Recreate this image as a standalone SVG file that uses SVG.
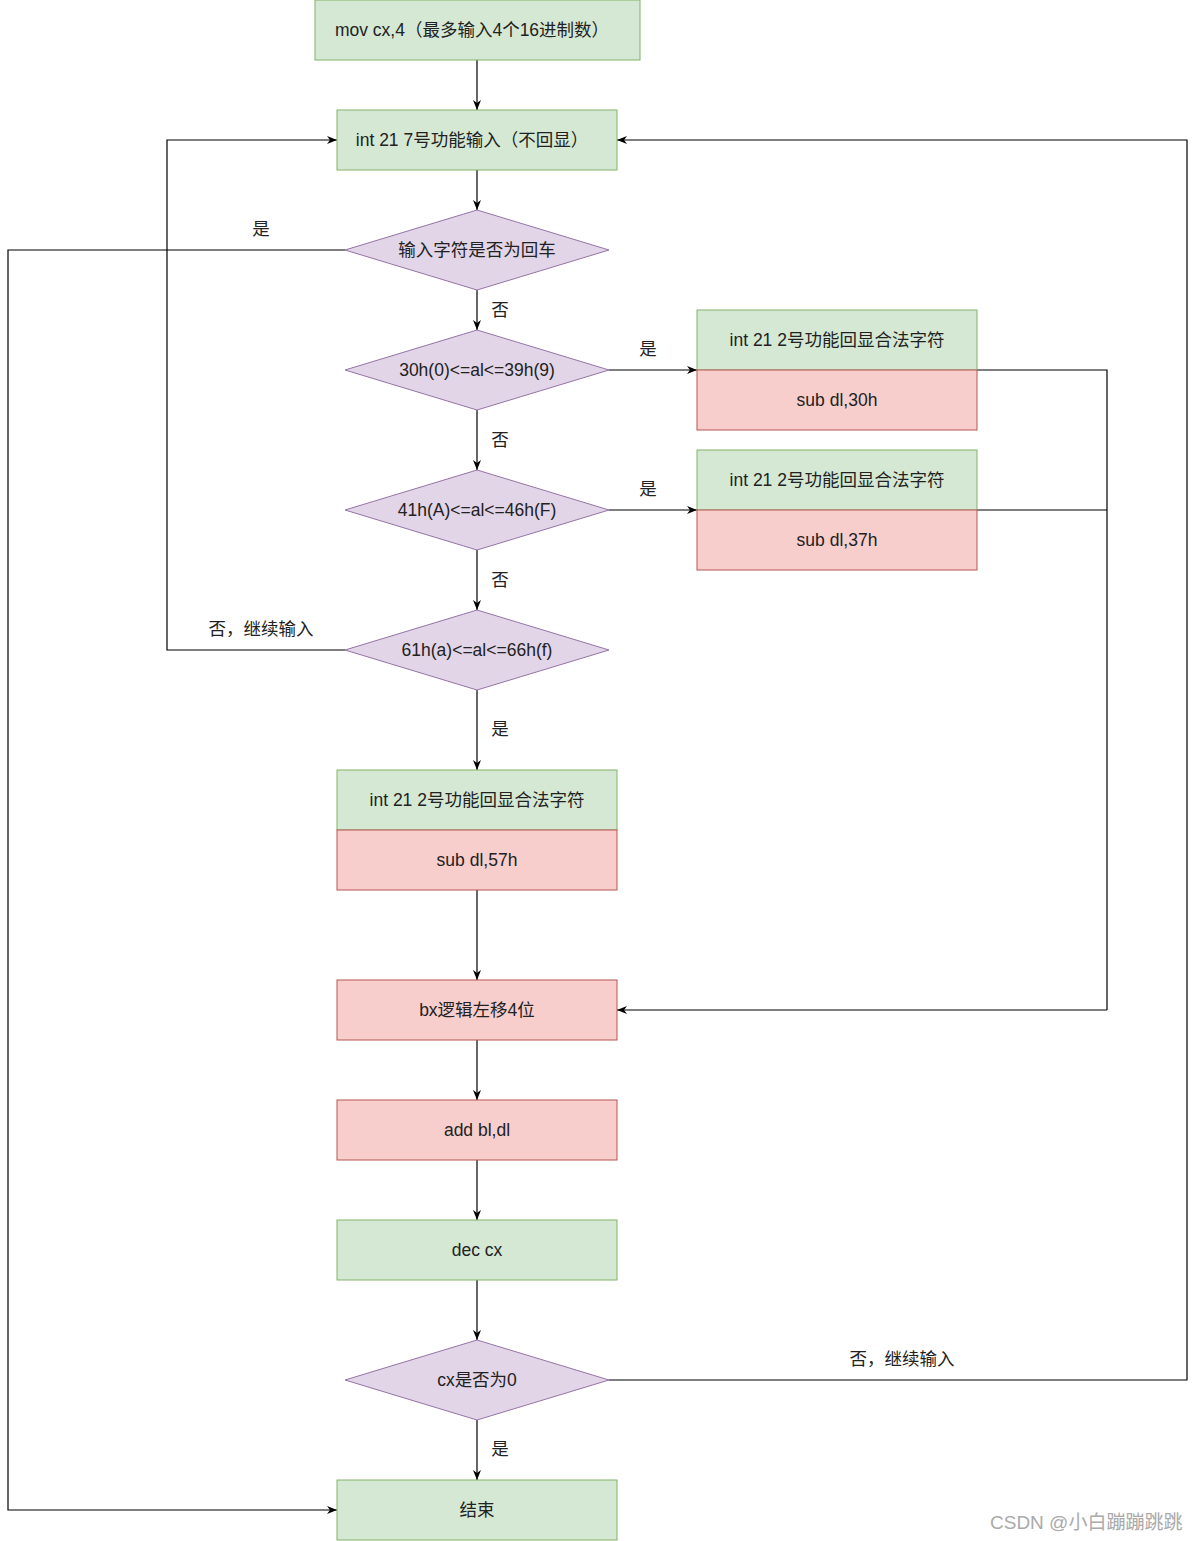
<svg xmlns="http://www.w3.org/2000/svg" width="1197" height="1541" viewBox="0 0 1197 1541">
<defs>
<marker id="arr" viewBox="0 0 10 10" refX="10" refY="5" markerWidth="10" markerHeight="10" markerUnits="userSpaceOnUse" orient="auto">
<path d="M0,1 L10,5 L0,9 L3,5 Z" fill="#000"/>
</marker>
<style>
text{font-family:"Liberation Sans","Noto Sans CJK SC",sans-serif;font-size:17.5px;fill:#222;text-anchor:middle;dominant-baseline:central}
.g{fill:#d5e8d4;stroke:#82b366;stroke-width:1}
.r{fill:#f8cecc;stroke:#b85450;stroke-width:1}
.p{fill:#e1d5e7;stroke:#9673a6;stroke-width:1}
.c{fill:none;stroke:#000;stroke-width:1.2}
.ca{fill:none;stroke:#000;stroke-width:1.2;marker-end:url(#arr)}
.wm{fill:#aaa;font-size:19px;text-anchor:start}
</style>
</defs>
<rect width="1197" height="1541" fill="#fff"/>
<g id="connectors">
<path class="ca" d="M477,60 V110"/>
<path class="ca" d="M477,170 V210"/>
<path class="ca" d="M345,250 H8 V1510 H337"/>
<path class="ca" d="M477,290 V330"/>
<path class="ca" d="M609,370 L697,370"/>
<path class="ca" d="M477,410 V470"/>
<path class="ca" d="M609,510 L697,510"/>
<path class="ca" d="M477,550 V610"/>
<path class="ca" d="M345,650 H167 V140 H337"/>
<path class="ca" d="M477,690 V770"/>
<path class="c" d="M977,370 H1107 V1010"/>
<path class="c" d="M977,510 H1107"/>
<path class="ca" d="M1107,1010 H617"/>
<path class="ca" d="M477,890 V980"/>
<path class="ca" d="M477,1040 V1100"/>
<path class="ca" d="M477,1160 V1220"/>
<path class="ca" d="M477,1280 V1340"/>
<path class="ca" d="M609,1380 H1187 V140 H617"/>
<path class="ca" d="M477,1420 V1480"/>
<text x="261" y="229">是</text>
<text x="500" y="310">否</text>
<text x="648" y="349">是</text>
<text x="500" y="440">否</text>
<text x="648" y="489">是</text>
<text x="500" y="580">否</text>
<text x="261" y="629">否，继续输入</text>
<text x="500" y="729">是</text>
<text x="902" y="1359">否，继续输入</text>
<text x="500" y="1449">是</text>
</g>
<g id="n-mov"><rect class="g" x="315" y="0" width="325" height="60"/><text x="472" y="30">mov cx,4（最多输入4个16进制数）</text></g>
<g id="n-int7"><rect class="g" x="337" y="110" width="280" height="60"/><text x="472" y="140">int 21 7号功能输入（不回显）</text></g>
<g id="d-enter"><polygon class="p" points="477,210 609,250 477,290 345,250"/><text x="477" y="250">输入字符是否为回车</text></g>
<g id="d-digit"><polygon class="p" points="477,330 609,370 477,410 345,370"/><text x="477" y="370">30h(0)&lt;=al&lt;=39h(9)</text></g>
<g id="d-upper"><polygon class="p" points="477,470 609,510 477,550 345,510"/><text x="477" y="510">41h(A)&lt;=al&lt;=46h(F)</text></g>
<g id="d-lower"><polygon class="p" points="477,610 609,650 477,690 345,650"/><text x="477" y="650">61h(a)&lt;=al&lt;=66h(f)</text></g>
<g id="n-digit"><rect class="g" x="697" y="310" width="280" height="60"/><text x="837" y="340">int 21 2号功能回显合法字符</text><rect class="r" x="697" y="370" width="280" height="60"/><text x="837" y="400">sub dl,30h</text></g>
<g id="n-upper"><rect class="g" x="697" y="450" width="280" height="60"/><text x="837" y="480">int 21 2号功能回显合法字符</text><rect class="r" x="697" y="510" width="280" height="60"/><text x="837" y="540">sub dl,37h</text></g>
<g id="n-lower"><rect class="g" x="337" y="770" width="280" height="60"/><text x="477" y="800">int 21 2号功能回显合法字符</text><rect class="r" x="337" y="830" width="280" height="60"/><text x="477" y="860">sub dl,57h</text></g>
<g id="n-shl"><rect class="r" x="337" y="980" width="280" height="60"/><text x="477" y="1010">bx逻辑左移4位</text></g>
<g id="n-add"><rect class="r" x="337" y="1100" width="280" height="60"/><text x="477" y="1130">add bl,dl</text></g>
<g id="n-dec"><rect class="g" x="337" y="1220" width="280" height="60"/><text x="477" y="1250">dec cx</text></g>
<g id="d-cx"><polygon class="p" points="477,1340 609,1380 477,1420 345,1380"/><text x="477" y="1380">cx是否为0</text></g>
<g id="n-end"><rect class="g" x="337" y="1480" width="280" height="60"/><text x="477" y="1510">结束</text></g>
<text class="wm" x="990" y="1522">CSDN @小白蹦蹦跳跳</text>
</svg>
